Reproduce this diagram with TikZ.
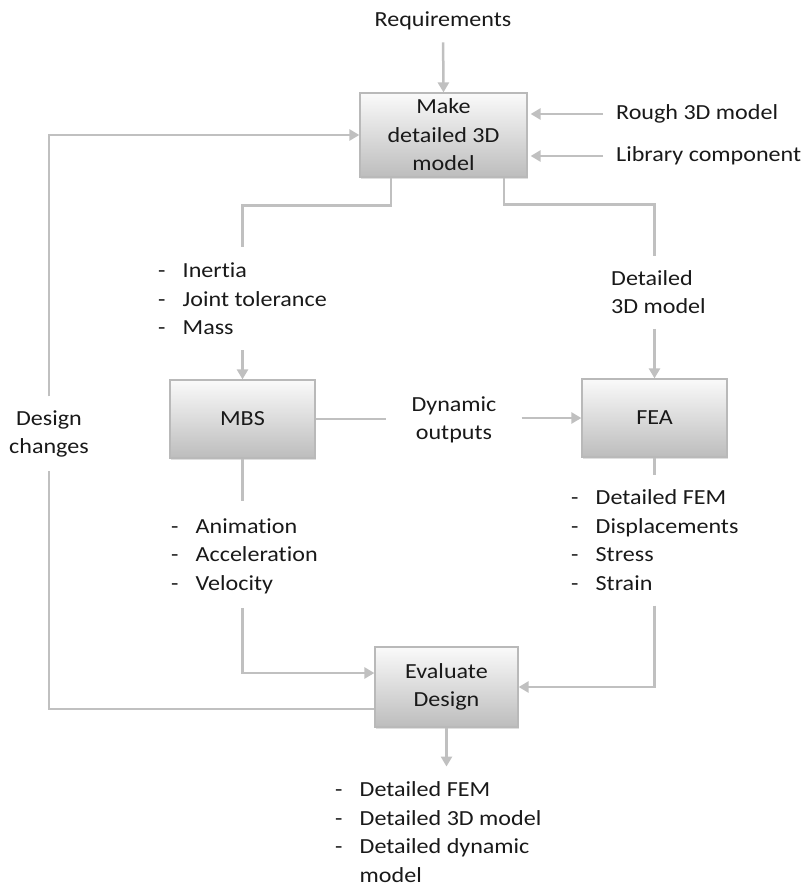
\documentclass[tikz,border=0pt]{standalone}
\usepackage{fontspec}
\setmainfont{Carlito}[FakeStretch=1.12, Ligatures=NoCommon]
\usetikzlibrary{arrows.meta,shadows}

\definecolor{linegray}{RGB}{192,192,192}
\definecolor{boxline}{RGB}{185,185,185}
\definecolor{textdark}{RGB}{25,25,25}

\tikzset{
  txt/.style={inner sep=0pt, text=textdark, font=\fontsize{21.5}{28.5}\selectfont},
  lbl/.style={txt, align=left},
  clbl/.style={txt, align=center},
  procbox/.style={txt, align=center, draw=boxline, line width=1.2pt,
    top color=black!2, bottom color=black!26,
    drop shadow={shadow xshift=1pt, shadow yshift=-1.5pt, opacity=0.25, fill=black!50}},
  conn/.style={draw=linegray, line width=2.5pt},
  arr/.style={conn, -{Triangle[length=10pt,width=11pt]}},
}
\newcommand{\bul}{\makebox[24.5pt][l]{-}}

\begin{document}
\begin{tikzpicture}[x=1pt, y=-1pt]
\useasboundingbox (0,0) rectangle (805,887);

% process boxes
\node[procbox, minimum width=167pt, minimum height=84pt] (make) at (443.5,135) {Make\\detailed 3D\\model};
\node[procbox, minimum width=145pt, minimum height=78pt] (mbs) at (242.5,419) {MBS};
\node[procbox, minimum width=145pt, minimum height=78pt] (fea) at (654.5,418) {FEA};
\node[procbox, minimum width=143pt, minimum height=80pt] (eval) at (446.5,687) {Evaluate\\Design};

% labels
\node[clbl] (req) at (443,21) {Requirements};
\node[lbl, anchor=west] (rough) at (616,114) {Rough 3D model};
\node[lbl, anchor=west] (lib) at (616,156) {Library component};
\node[clbl] (dchg) at (49,434) {Design\\changes};
\node[lbl, anchor=west] (inert) at (158,299) {\bul Inertia\\\bul Joint tolerance\\\bul Mass};
\node[clbl] (dyn) at (454,420) {Dynamic\\outputs};
\node[lbl, anchor=west] (det3d) at (611,292) {Detailed\\3D model};
\node[lbl, anchor=west] (anim) at (171,556) {\bul Animation\\\bul Acceleration\\\bul Velocity};
\node[lbl, anchor=west] (femlist) at (571,540) {\bul Detailed FEM\\\bul Displacements\\\bul Stress\\\bul Strain};
\node[lbl, anchor=west] (outlist) at (335,832) {\bul Detailed FEM\\\bul Detailed 3D model\\\bul Detailed dynamic\\\makebox[24.5pt]{}model};

% inputs to the modelling step
\draw[arr, shorten <=12pt] (req.south) -- (make.north);
\draw[arr, shorten <=13pt, shorten >=3pt] (rough.west) -- (rough.west -| make.east);
\draw[arr, shorten <=13pt, shorten >=3pt] (lib.west) -- (lib.west -| make.east);

% design-change feedback loop
\draw[conn, shorten >=13pt] ([yshift=-22pt]eval.west) -| (dchg.south);
\draw[arr, shorten <=14pt] (dchg.north) |- (make.west);

% model data to MBS
\draw[conn, shorten >=16pt] ([xshift=-52.5pt]make.south) -- ++(0,28) -| (mbs.north |- inert.north);
\draw[arr, shorten <=15pt] (mbs.north |- inert.south) -- (mbs.north);

% model data to FEA
\draw[conn, shorten >=14pt] ([xshift=60.5pt]make.south) -- ++(0,27) -| (fea.north |- det3d.north);
\draw[arr, shorten <=15pt] (fea.north |- det3d.south) -- (fea.north);

% dynamic outputs from MBS to FEA
\draw[conn, shorten >=25pt] (mbs.east) -- (mbs.east -| dyn.west);
\draw[arr, shorten <=25pt] (dyn.east |- fea.west) -- (fea.west);

% results to evaluation
\draw[conn, shorten >=17pt] (mbs.south) -- (mbs.south |- anim.north);
\draw[arr, shorten <=14pt] (mbs.south |- anim.south) |- ([yshift=14pt]eval.west);
\draw[conn, shorten >=15pt] (fea.south) -- (fea.south |- femlist.north);
\draw[arr, shorten <=15pt] (fea.south |- femlist.south) |- (eval.east);

% final outputs
\draw[arr, shorten >=15pt] (eval.south) -- (eval.south |- outlist.north);
\end{tikzpicture}
\end{document}
